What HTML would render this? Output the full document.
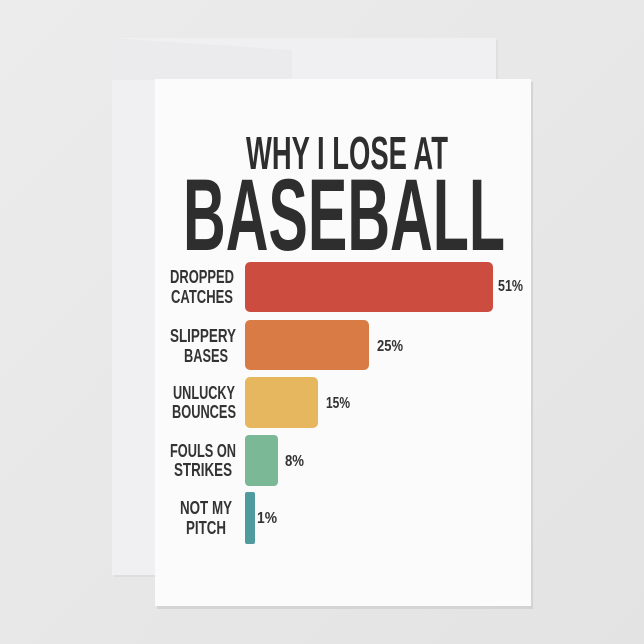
<!DOCTYPE html>
<html><head><meta charset="utf-8"><style>
html,body{margin:0;padding:0;background:#e8e8e8;}
svg{display:block}
</style></head><body>
<svg width="644" height="644" viewBox="0 0 644 644" xmlns="http://www.w3.org/2000/svg">
<defs>
<linearGradient id="bg" x1="0" y1="0" x2="1" y2="1"><stop offset="0" stop-color="#ececec"/><stop offset="1" stop-color="#e3e3e3"/></linearGradient>
</defs>
<rect width="644" height="644" fill="url(#bg)"/>
<!-- back card -->
<rect x="114" y="40" width="384" height="537" fill="#d6d6da" opacity="0.5"/>
<rect x="112" y="38" width="384" height="537" fill="#f0f0f3"/>
<polygon points="112,38 292,50 292,80 112,80" fill="#ebebee"/>
<!-- front card shadow -->
<rect x="157" y="82" width="376" height="527" fill="#c8c8c8" opacity="0.6"/>
<rect x="155" y="79" width="376" height="527" fill="#fbfbfb"/>
<g font-family="Liberation Sans, sans-serif" font-weight="bold" fill="#2e2e2e">
<text x="246" y="169" font-size="46" textLength="202" lengthAdjust="spacingAndGlyphs">WHY I LOSE AT</text>
<text x="183" y="250" font-size="102" textLength="322" lengthAdjust="spacingAndGlyphs">BASEBALL</text>
</g>
<rect x="245" y="262" width="248" height="50" rx="5" fill="#cc4d40"/>
<rect x="245" y="320" width="124" height="50" rx="5" fill="#d97b45"/>
<rect x="245" y="377" width="73" height="51" rx="5" fill="#e7b760"/>
<rect x="245" y="435" width="33" height="51" rx="4" fill="#7ab896"/>
<rect x="245" y="492" width="10" height="52" rx="2" fill="#4f9b9e"/>
<g font-family="Liberation Sans, sans-serif" font-weight="bold" fill="#333" font-size="18" text-anchor="middle">
<text x="202" y="283" textLength="64" lengthAdjust="spacingAndGlyphs">DROPPED</text>
<text x="202" y="303" textLength="62" lengthAdjust="spacingAndGlyphs">CATCHES</text>
<text x="203" y="342" textLength="66" lengthAdjust="spacingAndGlyphs">SLIPPERY</text>
<text x="206" y="362" textLength="44" lengthAdjust="spacingAndGlyphs">BASES</text>
<text x="204" y="399" textLength="62" lengthAdjust="spacingAndGlyphs">UNLUCKY</text>
<text x="204" y="418" textLength="64" lengthAdjust="spacingAndGlyphs">BOUNCES</text>
<text x="203" y="457" textLength="66" lengthAdjust="spacingAndGlyphs">FOULS ON</text>
<text x="203" y="476" textLength="58" lengthAdjust="spacingAndGlyphs">STRIKES</text>
<text x="206" y="514" textLength="52" lengthAdjust="spacingAndGlyphs">NOT MY</text>
<text x="206" y="534" textLength="40" lengthAdjust="spacingAndGlyphs">PITCH</text>
</g>
<g font-family="Liberation Sans, sans-serif" font-weight="bold" fill="#333" font-size="16">
<text x="498" y="291" textLength="25" lengthAdjust="spacingAndGlyphs">51%</text>
<text x="377" y="351" textLength="26" lengthAdjust="spacingAndGlyphs">25%</text>
<text x="326" y="408" textLength="24" lengthAdjust="spacingAndGlyphs">15%</text>
<text x="285" y="466" textLength="19" lengthAdjust="spacingAndGlyphs">8%</text>
<text x="257" y="523" textLength="20" lengthAdjust="spacingAndGlyphs">1%</text>
</g>
</svg>
</body></html>
